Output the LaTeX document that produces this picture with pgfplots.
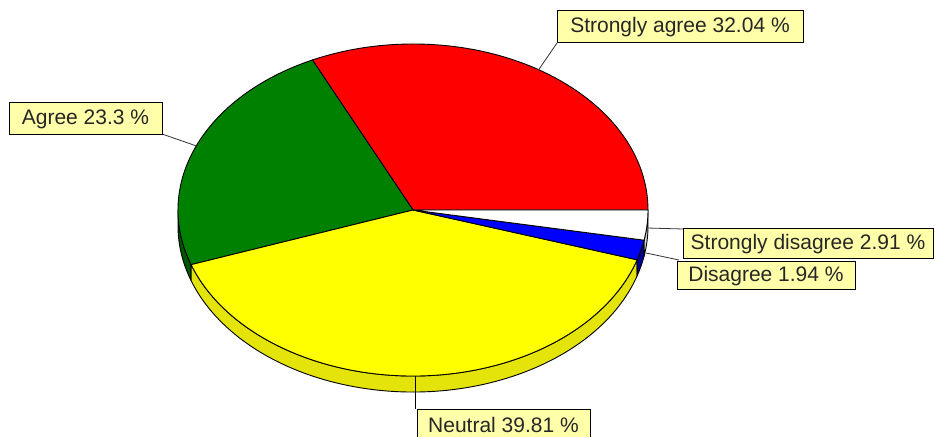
\documentclass[border=0pt]{standalone}
\usepackage{pgfplots}
\pgfplotsset{compat=1.18}
\usepackage{pgfplotstable}
\usepackage{fontspec}
\setmainfont{Liberation Sans}
\definecolor{sa}{RGB}{255,0,0}
\definecolor{ag}{RGB}{0,128,0}
\definecolor{ne}{RGB}{255,255,0}
\definecolor{di}{RGB}{0,0,255}
\definecolor{sd}{RGB}{255,255,255}
\definecolor{agside}{RGB}{0,85,0}
\definecolor{neside}{RGB}{228,228,10}
\definecolor{diside}{RGB}{0,0,150}
\definecolor{sdside}{RGB}{215,215,215}
\definecolor{lab}{RGB}{255,255,170}
\tikzset{lbl/.style={font=\fontsize{21}{25}\selectfont,text=black!85}}
\pgfplotstableread{
value
32.04
23.3
39.81
1.94
2.91
}\piedata
\newcommand\rx{235pt}
\newcommand\ry{166pt}
\newcommand\topslice[3]{%
  \filldraw[fill=#3,draw=black,line width=0.9pt,line join=round]
    (axis cs:413,227) -- ([shift={(#1:\rx\space and \ry)}]axis cs:413,227)
    arc[start angle=#1,end angle=#2,x radius=\rx,y radius=\ry] -- cycle;}
\newcommand\sidewall[3]{%
  \filldraw[fill=#3,draw=black,line width=0.9pt,line join=round]
    ([shift={(#1:\rx\space and \ry)}]axis cs:413,227)
    arc[start angle=#1,end angle=#2,x radius=\rx,y radius=\ry] -- ++(0,-16pt)
    arc[start angle=#2,end angle=#1,x radius=\rx,y radius=\ry] -- cycle;}
\begin{document}
\begin{tikzpicture}
\pgfplotstablegetelem{0}{value}\of\piedata\let\vA\pgfplotsretval
\pgfplotstablegetelem{1}{value}\of\piedata\let\vB\pgfplotsretval
\pgfplotstablegetelem{2}{value}\of\piedata\let\vC\pgfplotsretval
\pgfplotstablegetelem{3}{value}\of\piedata\let\vD\pgfplotsretval
\pgfplotstablegetelem{4}{value}\of\piedata\let\vE\pgfplotsretval
\pgfmathsetmacro\aA{0}
\pgfmathsetmacro\aB{\aA+3.6*\vA}
\pgfmathsetmacro\aC{\aB+3.6*\vB}
\pgfmathsetmacro\aD{\aC+3.6*\vC}
\pgfmathsetmacro\aE{\aD+3.6*\vD}
\pgfmathsetmacro\aF{\aE+3.6*\vE}
\pgfmathsetmacro\mA{(\aA+\aB)/2}
\pgfmathsetmacro\mB{(\aB+\aC)/2}
\pgfmathsetmacro\mC{(\aC+\aD)/2}
\pgfmathsetmacro\mD{(\aD+\aE)/2}
\pgfmathsetmacro\mE{(\aE+\aF)/2}
\pgfmathsetmacro\sB{max(\aB,180)}
\begin{axis}[x=1pt,y=1pt,xmin=0,xmax=935,ymin=0,ymax=437,hide axis,
  anchor=origin]
\path (axis cs:0,0) rectangle (axis cs:935,437);
% side walls (front half)
\sidewall{\sB}{\aC}{agside}
\sidewall{\aC}{\aD}{neside}
\sidewall{\aD}{\aE}{diside}
\sidewall{\aE}{\aF}{sdside}
% top surface
\topslice{\aA}{\aB}{sa}
\topslice{\aB}{\aC}{ag}
\topslice{\aC}{\aD}{ne}
\topslice{\aD}{\aE}{di}
\topslice{\aE}{\aF}{sd}
% leader lines
\draw[line width=0.8pt,black!80] ([shift={(\mA:\rx\space and \ry)}]axis cs:413,227) -- (axis cs:557,394);
\draw[line width=0.8pt,black!80] ([shift={(\mB:\rx\space and \ry)}]axis cs:413,227) -- (axis cs:162,303);
\draw[line width=0.8pt,black] (axis cs:415,61) -- (axis cs:415,28);
\draw[line width=0.8pt,black!80] (axis cs:646,184) -- (axis cs:679,177);
\draw[line width=0.8pt,black!80] (axis cs:647,209) -- (axis cs:683,208);
% labels
\node[lbl,draw=black,line width=1pt,fill=lab,minimum width=246pt,minimum height=32pt,inner sep=0pt]
  at (axis cs:680,410) {Strongly agree \vA\ \%};
\node[lbl,draw=black,line width=1pt,fill=lab,minimum width=153pt,minimum height=32pt,inner sep=0pt]
  at (axis cs:85.5,318) {Agree \vB\ \%};
\fill[lab] (axis cs:417,0) rectangle (axis cs:590,28);
\draw[line width=1pt,black] (axis cs:417,0) -- (axis cs:417,28) -- (axis cs:590,28) -- (axis cs:590,0);
\node[lbl] at (axis cs:503.5,12) {Neutral \vC\ \%};
\node[lbl,draw=black,line width=1pt,fill=lab,minimum width=178pt,minimum height=28pt,inner sep=0pt]
  at (axis cs:766,161) {Disagree \vD\ \%};
\node[lbl,draw=black,line width=1pt,fill=lab,minimum width=250pt,minimum height=30pt,inner sep=0pt]
  at (axis cs:808,193) {Strongly disagree \vE\ \%};
\end{axis}
\end{tikzpicture}
\end{document}
